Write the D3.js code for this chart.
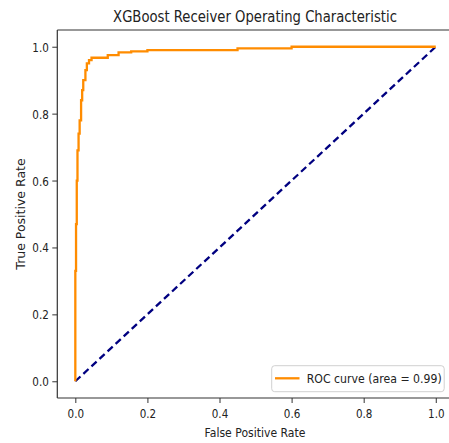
<!DOCTYPE html>
<html><head><meta charset="utf-8">
<script src="https://cdn.jsdelivr.net/npm/d3@7"></script>
<style>body{margin:0;background:#fff}svg{display:block}text{font-family:"DejaVu Sans",sans-serif;fill:#222}</style>
</head><body>
<script>
const rocFpr = [0,0,0.002,0.002,0.004,0.004,0.006,0.006,0.009,0.009,0.012,0.012,0.016,0.016,0.019,0.019,0.022,0.022,0.028,0.028,0.032,0.032,0.038,0.038,0.045,0.045,0.09,0.09,0.12,0.12,0.155,0.155,0.2,0.2,0.45,0.45,0.6,0.6,1.0];
const rocTpr = [0,0.33,0.33,0.47,0.47,0.60,0.60,0.69,0.69,0.74,0.74,0.78,0.78,0.84,0.84,0.87,0.87,0.90,0.90,0.93,0.93,0.95,0.95,0.96,0.96,0.967,0.967,0.975,0.975,0.983,0.983,0.986,0.986,0.99,0.99,0.995,0.995,1.0,1.0];
const diagX = [0,1];
const diagY = [0,1];
const xTicks = [0.0,0.2,0.4,0.6,0.8,1.0];
const yTicks = [0.0,0.2,0.4,0.6,0.8,1.0];
const titleText = "XGBoost Receiver Operating Characteristic";
const xLabel = "False Positive Rate";
const yLabel = "True Positive Rate";
const legendLabel = "ROC curve (area = 0.99)";

const W=449,H=443;
const L=57.3,R=453.8,T=30,B=398;
const svg=d3.select("body").append("svg").attr("width",W).attr("height",H);
svg.append("rect").attr("width",W).attr("height",H).attr("fill","#fff");
const x=d3.scaleLinear().domain([-0.05,1.05]).range([L,R]);
const y=d3.scaleLinear().domain([-0.05,1.05]).range([B,T]);
const line=d3.line().x(d=>x(d[0])).y(d=>y(d[1]));

// squeeze a text horizontally to a target width, anchored at (ax, ay)
function fit(g, txt, size, target, ax, ay, anchor){
  const t=g.append("text").attr("font-size",size).attr("text-anchor",anchor).text(txt);
  const len=t.node().getComputedTextLength();
  const s=Math.min(1,target/len);
  t.attr("transform",`translate(${ax},${ay}) scale(${s},1)`);
  return t;
}

// lines
svg.append("path").datum(diagX.map((v,i)=>[v,diagY[i]])).attr("d",line)
  .attr("fill","none").attr("stroke","#000080").attr("stroke-width",2.3).attr("stroke-dasharray","7,4");
svg.append("path").datum(rocFpr.map((v,i)=>[v,rocTpr[i]])).attr("d",line)
  .attr("fill","none").attr("stroke","#ff8c00").attr("stroke-width",2.3).attr("stroke-linejoin","miter");

// axes (ticks via d3 axes, labels re-drawn squeezed)
const xa=svg.append("g").attr("transform",`translate(0,${B})`)
  .call(d3.axisBottom(x).tickValues(xTicks).tickFormat(d3.format(".1f")).tickSize(5).tickPadding(4).tickSizeOuter(0));
const ya=svg.append("g").attr("transform",`translate(${L},0)`)
  .call(d3.axisLeft(y).tickValues(yTicks).tickFormat(d3.format(".1f")).tickSize(5).tickPadding(4).tickSizeOuter(0));
[xa,ya].forEach(g=>{g.select(".domain").remove();g.selectAll("line").attr("stroke","#333");
  g.selectAll("text").remove();});
const fmt=d3.format(".1f");
xa.selectAll("g.tick").each(function(d){fit(d3.select(this),fmt(d),12.5,16.5,0,20,"middle").attr("fill","#2a2a2a");});
ya.selectAll("g.tick").each(function(d){fit(d3.select(this),fmt(d),12.5,16.5,-8.5,4.5,"end").attr("fill","#2a2a2a");});

// spines
svg.append("line").attr("x1",L).attr("x2",L).attr("y1",T).attr("y2",B).attr("stroke","#333").attr("stroke-width",1.2);
svg.append("line").attr("x1",L).attr("x2",W).attr("y1",B).attr("y2",B).attr("stroke","#333").attr("stroke-width",1.2);
svg.append("line").attr("x1",L).attr("x2",W).attr("y1",T).attr("y2",T).attr("stroke","#333").attr("stroke-width",1.2);

// title & labels
fit(svg,titleText,16,284,255,22,"middle");
fit(svg,xLabel,12.5,101,255,437,"middle");
svg.append("text").attr("transform","translate(25,214) rotate(-90)").attr("text-anchor","middle").attr("font-size",12.5)
  .text(yLabel);

// legend
const lg=svg.append("g");
lg.append("rect").attr("x",271.7).attr("y",365.7).attr("width",172.5).attr("height",26).attr("rx",3)
  .attr("fill","#fff").attr("fill-opacity",0.85).attr("stroke","#d0d0d0");
lg.append("line").attr("x1",275).attr("x2",299.5).attr("y1",378.3).attr("y2",378.3).attr("stroke","#ff8c00").attr("stroke-width",2.3);
fit(lg,legendLabel,12.5,135,306.7,383,"start");
</script>
</body></html>
